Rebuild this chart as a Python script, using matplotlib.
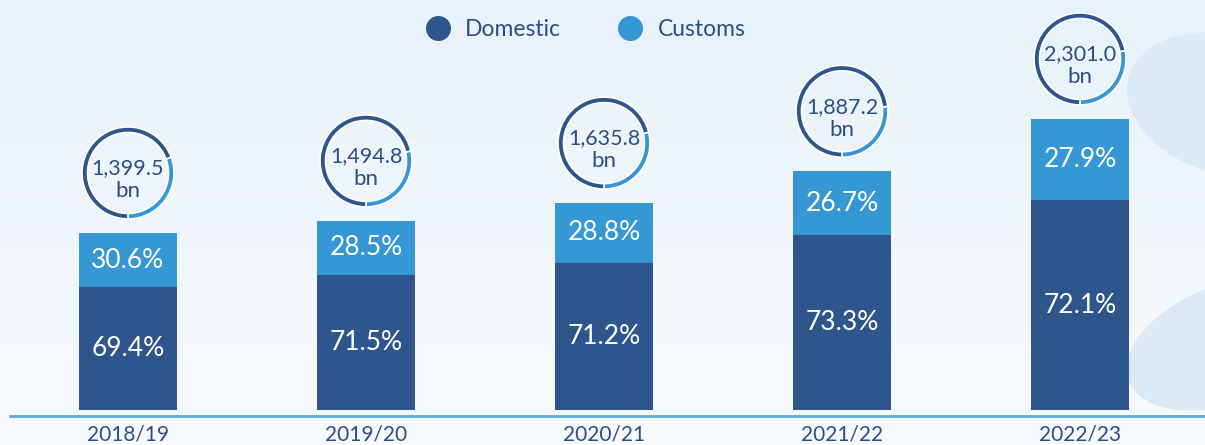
import matplotlib
matplotlib.use("Agg")
import matplotlib.pyplot as plt
from matplotlib.lines import Line2D
from matplotlib.patches import Ellipse
from matplotlib.colors import LinearSegmentedColormap
import numpy as np

years = ["2018/19", "2019/20", "2020/21", "2021/22", "2022/23"]
totals = [1399.5, 1494.8, 1635.8, 1887.2, 2301.0]
domestic_pct = [69.4, 71.5, 71.2, 73.3, 72.1]
customs_pct = [30.6, 28.5, 28.8, 26.7, 27.9]

DARK = "#2E568C"
LIGHT = "#3598D4"
TEXT = "#2D4E85"
BG_TOP = "#E8F2FA"
BG_BOT = "#F8FBFD"

plt.rcParams['font.family'] = ['Lato', 'DejaVu Sans']

W, H = 1205, 445
fig = plt.figure(figsize=(W / 100, H / 100), dpi=100)

# background gradient + soft blobs
bg = fig.add_axes([0, 0, 1, 1], zorder=-10)
grad = np.linspace(0, 1, 256).reshape(-1, 1)
cmap = LinearSegmentedColormap.from_list("bg", [BG_TOP, BG_BOT])
bg.imshow(grad, aspect="auto", cmap=cmap, extent=[0, W, 0, H], origin="upper")
bg.add_patch(Ellipse((1230, 340), 210, 140, angle=-15, color="#DCEAF5", lw=0))
bg.add_patch(Ellipse((1232, 102), 220, 120, angle=20, color="#DCEAF5", lw=0))
bg.plot([10, W], [H - 416, H - 416], color="#5BA7D9", lw=2)
bg.set_xlim(0, W)
bg.set_ylim(0, H)
bg.axis("off")

ax = fig.add_axes([0, 0, 1, 1])
ax.patch.set_alpha(0)
px_x = 238.0
px_y = 0.1265
ax.set_xlim(-128 / px_x, 4 + (W - 1080) / px_x)
ax.set_ylim(-35 / px_y, 410 / px_y)
ax.axis("off")

x = np.arange(len(years))
dom_vals = [t * d / 100 for t, d in zip(totals, domestic_pct)]
cus_vals = [t * c / 100 for t, c in zip(totals, customs_pct)]
ax.bar(x, dom_vals, width=0.41, color=DARK)
ax.bar(x, cus_vals, width=0.41, bottom=dom_vals, color=LIGHT)

for i in range(len(years)):
    ax.text(x[i], dom_vals[i] / 2, f"{domestic_pct[i]:.1f}%", ha="center", va="center",
            color="white", fontsize=19)
    ax.text(x[i], dom_vals[i] + cus_vals[i] / 2, f"{customs_pct[i]:.1f}%", ha="center",
            va="center", color="white", fontsize=19)
    ax.text(x[i], -196, years[i], ha="center", va="center", color=TEXT, fontsize=15)

# donuts above bars
r = 46
for i in range(len(years)):
    cx, cy = ax.transData.transform((x[i], totals[i]))
    cy = cy + 14 + r
    dax = fig.add_axes([(cx - r) / W, (cy - r) / H, 2 * r / W, 2 * r / H])
    dax.pie([customs_pct[i], domestic_pct[i]], colors=[LIGHT, DARK], startangle=-90,
            counterclock=True,
            wedgeprops=dict(width=5.5 / r, edgecolor="white", linewidth=1.2))
    dax.set_xlim(-1, 1)
    dax.set_ylim(-1, 1)
    dax.text(0, 0.1, f"{totals[i]:,.1f}", ha="center", va="center", color=TEXT,
             fontsize=15.5)
    dax.text(0, -0.4, "bn", ha="center", va="center", color=TEXT, fontsize=16)

handles = [Line2D([], [], marker="o", ls="", color=DARK, markersize=17),
           Line2D([], [], marker="o", ls="", color=LIGHT, markersize=17)]
leg = fig.legend(handles, ["Domestic", "Customs"], loc="center", ncol=2,
                 bbox_to_anchor=(580 / W, 1 - 30 / H), frameon=False,
                 fontsize=16.5, handletextpad=0.2, columnspacing=2.0)
for t in leg.get_texts():
    t.set_color(TEXT)

fig.savefig("out.png", dpi=100)
